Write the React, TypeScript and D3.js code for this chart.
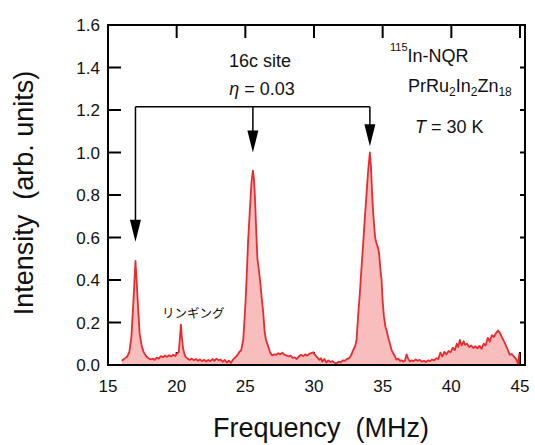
import React from "react";
import * as d3 from "d3";

// NQR spectrum
const freq = [
  16.0, 16.2, 16.4, 16.55, 16.7, 16.85, 17.0, 17.1, 17.2, 17.3, 17.45, 17.6, 17.8, 17.95,
  18.1, 18.25, 18.4, 18.55, 18.7, 18.85, 19.0, 19.15, 19.3, 19.45, 19.6, 19.75, 19.9, 20.05,
  20.15, 20.25, 20.31, 20.38, 20.46, 20.55, 20.65, 20.8, 20.95, 21.1, 21.25, 21.4, 21.55,
  21.7, 21.85, 22.0, 22.15, 22.3, 22.45, 22.6, 22.75, 22.9, 23.05, 23.2, 23.35, 23.5, 23.65,
  23.8, 23.95, 24.1, 24.25, 24.4, 24.55, 24.7, 24.85, 25.0, 25.1, 25.2, 25.33, 25.45, 25.55,
  25.62, 25.7, 25.8, 25.88, 26.0, 26.1, 26.2, 26.3, 26.4, 26.5, 26.65, 26.8, 26.95, 27.1,
  27.25, 27.4, 27.55, 27.7, 27.85, 28.0, 28.15, 28.3, 28.45, 28.6, 28.75, 28.9, 29.05, 29.2,
  29.35, 29.5, 29.65, 29.8, 29.95, 30.1, 30.25, 30.4, 30.5, 30.6, 30.75, 30.9, 31.05, 31.2,
  31.35, 31.5, 31.65, 31.8, 31.95, 32.1, 32.25, 32.4, 32.55, 32.7, 32.85, 33.0, 33.1, 33.2,
  33.34, 33.46, 33.58, 33.7, 33.83, 33.95, 34.07, 34.15, 34.25, 34.35, 34.45, 34.56, 34.67,
  34.75, 34.85, 34.92, 35.0, 35.09, 35.2, 35.3, 35.4, 35.53, 35.65, 35.77, 35.9, 36.0, 36.13,
  36.25, 36.4, 36.5, 36.62, 36.74, 36.85, 36.98, 37.1, 37.25, 37.4, 37.55, 37.7, 37.85, 38.0,
  38.15, 38.3, 38.45, 38.6, 38.75, 38.92, 39.05, 39.2, 39.35, 39.5, 39.65, 39.8, 39.95, 40.1,
  40.25, 40.4, 40.5, 40.62, 40.75, 40.9, 41.0, 41.15, 41.3, 41.45, 41.6, 41.75, 41.9, 42.05,
  42.2, 42.35, 42.5, 42.65, 42.8, 42.95, 43.1, 43.25, 43.4, 43.55, 43.7, 43.85, 44.0, 44.12,
  44.26, 44.4, 44.55, 44.7, 44.86, 44.95,
];
const intensity = [
  0.02, 0.03, 0.04, 0.06, 0.13, 0.3, 0.49, 0.38, 0.26, 0.15, 0.09, 0.06, 0.04, 0.032,
  0.026, 0.03, 0.024, 0.035, 0.03, 0.042, 0.036, 0.045, 0.038, 0.046, 0.04, 0.048, 0.042, 0.055,
  0.06, 0.14, 0.19, 0.13, 0.08, 0.055, 0.038, 0.03, 0.024, 0.03, 0.022, 0.028, 0.02,
  0.026, 0.018, 0.025, 0.016, 0.024, 0.018, 0.028, 0.02, 0.03, 0.022, 0.026, 0.015, 0.024, 0.012,
  0.02, 0.01, 0.025, 0.035, 0.045, 0.06, 0.07, 0.12, 0.28, 0.42, 0.58, 0.73, 0.86, 0.915,
  0.88, 0.79, 0.62, 0.5, 0.44, 0.38, 0.31, 0.25, 0.16, 0.12, 0.09, 0.06, 0.045, 0.05,
  0.048, 0.055, 0.05, 0.058, 0.048, 0.045, 0.04, 0.044, 0.034, 0.036, 0.028, 0.04, 0.048, 0.042,
  0.05, 0.044, 0.052, 0.056, 0.06, 0.045, 0.035, 0.024, 0.032, 0.016, 0.028, 0.012, 0.022, 0.014,
  0.018, 0.01, 0.008, 0.016, 0.012, 0.022, 0.02, 0.028, 0.032, 0.045, 0.07, 0.09, 0.12, 0.22,
  0.34, 0.46, 0.57, 0.69, 0.81, 0.92, 1.0, 0.93, 0.78, 0.68, 0.6, 0.57, 0.55,
  0.52, 0.44, 0.4, 0.3, 0.23, 0.18, 0.16, 0.13, 0.1, 0.07, 0.055, 0.04, 0.025, 0.03,
  0.02, 0.022, 0.016, 0.02, 0.05, 0.03, 0.016, 0.022, 0.018, 0.026, 0.02, 0.024, 0.016, 0.02,
  0.014, 0.022, 0.018, 0.026, 0.022, 0.032, 0.028, 0.058, 0.04, 0.062, 0.05, 0.066, 0.06, 0.082,
  0.07, 0.1, 0.085, 0.118, 0.092, 0.112, 0.095, 0.1, 0.084, 0.092, 0.08, 0.088, 0.078, 0.09,
  0.076, 0.1, 0.092, 0.128, 0.11, 0.14, 0.132, 0.15, 0.162, 0.15, 0.128, 0.11, 0.088, 0.07,
  0.048, 0.052, 0.04, 0.03, 0.005, 0.055,
];

const xTicks = [15, 20, 25, 30, 35, 40, 45];
const yTicks = [0, 0.2, 0.4, 0.6, 0.8, 1.0, 1.2, 1.4, 1.6];

// arrows marking the three 16c-site lines
const arrowFreq = [17.0, 25.55, 34.07];
const arrowTip = [0.58, 1.0, 1.03];
const arrowBar = 1.215;

const font = "'Liberation Sans', Arial, sans-serif";

export default function App() {
  const width = 535;
  const height = 445;
  const left = 108, right = 525, top = 25, bottom = 365;

  const x = d3.scaleLinear().domain([15, 45]).range([left, 520]);
  const y = d3.scaleLinear().domain([0, 1.6]).range([bottom, top]);

  const data = freq.map((f, i) => ({ f, v: intensity[i] }));
  const area = d3
    .area<{ f: number; v: number }>()
    .x(d => x(d.f))
    .y0(y(0))
    .y1(d => y(d.v));
  const line = d3
    .line<{ f: number; v: number }>()
    .x(d => x(d.f))
    .y(d => y(d.v));

  const tickLen = 13;
  const barY = y(arrowBar);

  return (
    <svg
      width={width}
      height={height}
      style={{ position: "absolute", left: 0, top: 0, background: "#fff" }}
      fontFamily={font}
    >
      {/* ticks (drawn first so the fill covers the bottom ones) */}
      <g stroke="#000" strokeWidth={2}>
        {xTicks.slice(1).map(t => (
          <line key={"bt" + t} x1={x(t)} x2={x(t)} y1={bottom} y2={bottom - tickLen} />
        ))}
        {xTicks.slice(1).map(t => (
          <line key={"tt" + t} x1={x(t)} x2={x(t)} y1={top} y2={top + tickLen} />
        ))}
        {yTicks.slice(1, -1).map(t => (
          <line key={"lt" + t} x1={left} x2={left + tickLen} y1={y(t)} y2={y(t)} />
        ))}
        {yTicks.slice(1, -1).map(t => (
          <line key={"rt" + t} x1={right} x2={right - 5} y1={y(t)} y2={y(t)} />
        ))}
      </g>

      <path d={area(data) || ""} fill="#f8bdbd" />
      <path d={line(data) || ""} fill="none" stroke="#ec2a2e" strokeWidth={1.8} strokeLinejoin="round" />

      {/* frame */}
      <rect x={left} y={top} width={right - left} height={bottom - top} fill="none" stroke="#000" strokeWidth={2} />

      {/* tick labels */}
      <g fontSize={17} fill="#111">
        {xTicks.map(t => (
          <text key={"xl" + t} x={x(t)} y={392} textAnchor="middle">
            {t}
          </text>
        ))}
        {yTicks.map(t => (
          <text key={"yl" + t} x={100} y={y(t)} dy="0.36em" textAnchor="end">
            {t.toFixed(1)}
          </text>
        ))}
      </g>

      {/* axis titles */}
      <text x={321} y={437} fontSize={27} textAnchor="middle" fill="#111">
        Frequency{"\u00a0\u00a0"}(MHz)
      </text>
      <text
        transform={`translate(33,193) rotate(-90)`}
        fontSize={27}
        textAnchor="middle"
        fill="#111"
      >
        Intensity{"\u00a0\u00a0"}(arb. units)
      </text>

      {/* arrows */}
      <g stroke="#000" strokeWidth={1.5} fill="none">
        <line x1={x(arrowFreq[0])} x2={x(arrowFreq[2])} y1={barY} y2={barY} />
        {arrowFreq.map((f, i) => (
          <line key={"av" + i} x1={x(f)} x2={x(f)} y1={barY} y2={y(arrowTip[i]) - 12} />
        ))}
      </g>
      {arrowFreq.map((f, i) => {
        const tx = x(f);
        const ty = y(arrowTip[i]);
        return (
          <path key={"ah" + i} d={`M${tx - 5.5},${ty - 22} L${tx + 5.5},${ty - 22} L${tx},${ty} Z`} fill="#000" />
        );
      })}

      {/* annotations */}
      <g fill="#111" fontSize={18}>
        <text x={260} y={67} textAnchor="middle">16c site</text>
        <text x={262} y={95} textAnchor="middle">
          <tspan fontStyle="italic">η</tspan> = 0.03
        </text>
        <text x={390} y={62}>
          <tspan fontSize={11} dy={-11}>115</tspan>
          <tspan dy={11}>In-NQR</tspan>
        </text>
        <text x={408} y={92}>
          PrRu<tspan fontSize={12} dy={4}>2</tspan>
          <tspan dy={-4}>In</tspan>
          <tspan fontSize={12} dy={4}>2</tspan>
          <tspan dy={-4}>Zn</tspan>
          <tspan fontSize={12} dy={4}>18</tspan>
        </text>
        <text x={415} y={133}>
          <tspan fontStyle="italic">T</tspan> = 30 K
        </text>
      </g>
      <text x={162} y={318} fontSize={12.5} fill="#111" fontFamily="'Noto Sans CJK JP', sans-serif">
        リンギング
      </text>
    </svg>
  );
}
